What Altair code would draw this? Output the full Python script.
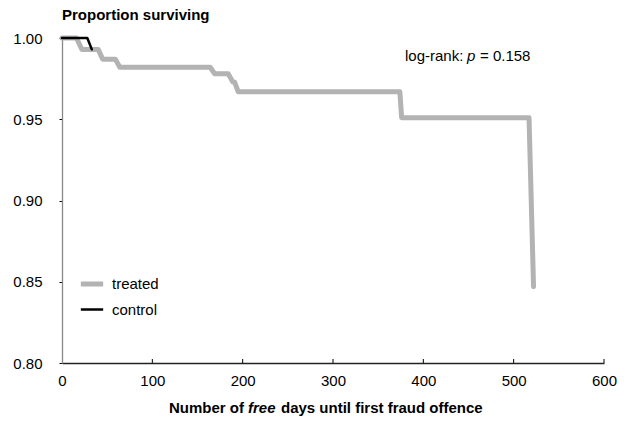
import altair as alt
import pandas as pd

# Kaplan-Meier curves (days, proportion surviving)
treated_days = [0, 16, 22, 40, 45, 59, 64, 164, 169, 184, 189, 191, 195, 374, 376, 517, 522]
treated_surv = [1.0, 1.0, 0.993, 0.993, 0.987, 0.987, 0.982, 0.982, 0.978, 0.978, 0.973, 0.973,
                0.967, 0.967, 0.951, 0.951, 0.847]
control_days = [0, 28, 33]
control_surv = [1.0, 1.0, 0.993]

x_ticks = [0, 100, 200, 300, 400, 500, 600]
y_ticks = [0.80, 0.85, 0.90, 0.95, 1.00]

groups = ["treated", "control"]
colors = ["#b3b3b3", "#000000"]
widths = [5, 2.5]

rows = []
for i, (d, s) in enumerate(zip(treated_days, treated_surv)):
    rows.append({"group": "treated", "days": d, "surv": s, "order": i})
for i, (d, s) in enumerate(zip(control_days, control_surv)):
    rows.append({"group": "control", "days": d, "surv": s, "order": i})
df = pd.DataFrame(rows)

W, H = 542, 325
FONT = "Liberation Sans"
FS = 15

xscale = alt.Scale(domain=[0, 600], nice=False, zero=False)
yscale = alt.Scale(domain=[0.8, 1.0], nice=False, zero=False)

leg = alt.Legend(title=None, orient="none", legendX=16, legendY=232,
                 symbolType="stroke", symbolSize=500,
                 labelFontSize=FS, labelFont=FONT, labelColor="#000",
                 rowPadding=3, labelOffset=6)

lines = alt.Chart(df).mark_line(strokeCap="round", strokeJoin="round").encode(
    x=alt.X("days:Q", scale=xscale,
            axis=alt.Axis(values=x_ticks, title=None, grid=False, ticks=False,
                          labelFlush=False, labelOverlap=False,
                          labelPadding=10, labelFontSize=FS, labelFont=FONT,
                          labelColor="#000", domainColor="#222", domainWidth=1.3)),
    y=alt.Y("surv:Q", scale=yscale,
            axis=alt.Axis(values=y_ticks, format=".2f", title=None, grid=False,
                          labelFlush=False, labelOverlap=False,
                          tickSize=3, tickColor="#000", labelPadding=17, labelFontSize=FS,
                          labelFont=FONT, labelColor="#000", domainColor="#888",
                          domainWidth=1.3)),
    color=alt.Color("group:N", scale=alt.Scale(domain=groups, range=colors), legend=leg),
    strokeWidth=alt.StrokeWidth("group:N", scale=alt.Scale(domain=groups, range=widths),
                                legend=leg),
    detail="group:N",
    order="order:Q",
)

tick_df = pd.DataFrame({"t": x_ticks[1:]})
xticks = alt.Chart(tick_df).mark_rule(color="#000", strokeWidth=1).encode(
    x=alt.X("t:Q", scale=xscale),
    y=alt.value(H),
    y2=alt.value(H - 4),
)

def txt(text, x, y, align="left", bold=False, italic=False):
    return alt.Chart(pd.DataFrame({"t": [text]})).mark_text(
        align=align, baseline="middle", font=FONT, fontSize=FS,
        fontWeight="bold" if bold else "normal",
        fontStyle="italic" if italic else "normal", color="#000",
    ).encode(text="t:N", x=alt.value(x), y=alt.value(y))

ox, oy = 62, 38
annot = [
    txt("Proportion surviving", 62 - ox, 15 - oy, bold=True),
    txt("log-rank:", 405 - ox, 56 - oy),
    txt("p", 467 - ox, 56 - oy, italic=True),
    txt("= 0.158", 480 - ox, 56 - oy),
    txt("Number of", 244 - ox, 408 - oy, align="right", bold=True),
    txt("free", 248 - ox, 408 - oy, bold=True, italic=True),
    txt("days until first fraud offence", 281 - ox, 408 - oy, bold=True),
]

chart = alt.layer(lines, xticks, *annot).properties(
    width=W, height=H,
    autosize=alt.AutoSizeParams(type="none"),
    padding={"left": 62, "top": 38, "right": 23, "bottom": 60},
    background="white",
).configure_view(stroke=None)

chart.save("out.html", embed_options={"renderer": "svg", "actions": False})
